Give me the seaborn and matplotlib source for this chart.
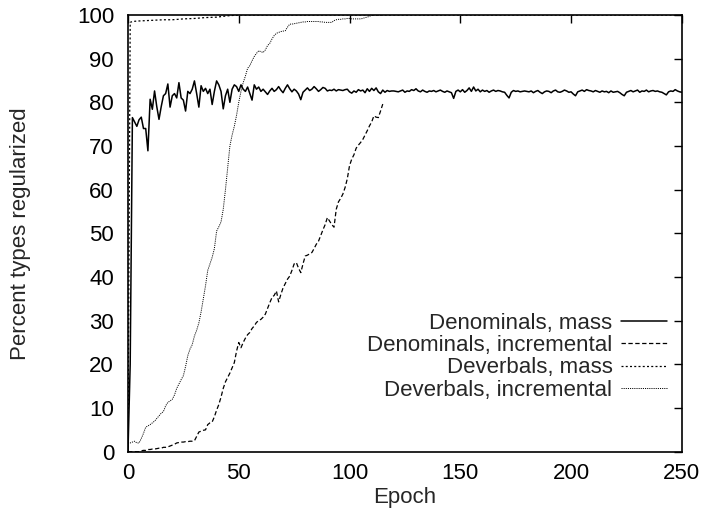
import matplotlib
matplotlib.use('Agg')
import pandas as pd
import seaborn as sns
import matplotlib.pyplot as plt

# epochs of each run
epochs_mass = list(range(0, 251))
epochs_incr = list(range(0, 116))
epochs_dev_mass = [0, 1, 2, 4, 8, 12, 16, 20, 25, 30, 35, 40, 45, 50, 250]

den_mass = [
    0, 20, 76.5, 75.5, 74.5, 76, 76.6, 74, 74, 68.9,
    80.7, 78.4, 82.6, 79, 76.1, 79, 81.5, 82, 84.2, 78.9,
    81.5, 82, 81, 84.5, 81, 80.5, 78, 82.5, 82, 83,
    84.9, 82, 78.9, 83.8, 82.5, 83.2, 82, 83, 79.5, 82.5,
    84.9, 84, 82.5, 78.5, 81.5, 83, 80, 83, 84, 83.6,
    82.5, 84, 83, 82.5, 83.5, 82, 80.5, 84, 83, 83.5,
    82.5, 83.0, 82.4, 81.8, 82.6, 83.2, 82.5, 82.9, 83.6, 82.8,
    82.2, 83.2, 84.0, 83.1, 82.4, 83.0, 82.6, 81.9, 80.6, 82.3,
    82.8, 83.3, 82.7, 83.0, 83.6, 83.1, 82.5, 82.9, 83.4, 83.2,
    82.6, 82.8, 82.7, 83.0, 82.6, 82.9, 82.8, 82.7, 82.9, 83.0,
    82.4, 82.1, 82.6, 82.3, 82.9, 82.6, 82.8, 82.2, 83.1, 82.5,
    83.2, 82.7, 83.3, 82.4, 82.0, 82.8, 82.3, 82.7, 82.5, 82.6,
    82.6, 82.5, 82.4, 82.6, 82.8, 82.3, 82.6, 82.5, 82.9, 82.7,
    83.1, 82.6, 82.4, 82.8, 82.5, 82.3, 82.6, 82.5, 82.7, 82.4,
    82.6, 82.8, 82.5, 82.3, 82.6, 82.4, 82.2, 80.9, 82.5, 82.8,
    82.4, 82.9, 82.3, 82.7, 83.3, 82.5, 83.5, 82.6, 83.0, 82.4,
    82.8, 82.5, 82.7, 82.3, 82.6, 82.8, 82.5, 82.7, 82.6, 82.4,
    82.3, 81.6, 81.0, 82.3, 82.7, 82.5, 82.6, 82.4, 82.5, 82.6,
    82.5, 82.4, 82.6, 82.2, 82.5, 82.7, 82.3, 82.0, 82.4, 82.6,
    82.5, 82.2, 82.6, 82.8, 82.4, 82.3, 82.5, 82.8, 82.6, 82.3,
    82.4, 81.9, 81.5, 82.4, 82.6, 82.8, 82.5, 82.9, 82.7, 82.6,
    82.4, 82.7, 82.5, 82.3, 82.6, 82.4, 82.5, 82.2, 82.6, 82.3,
    82.4, 82.5, 82.2, 81.8, 81.5, 82.3, 82.5, 82.7, 82.4, 82.6,
    82.8, 82.3, 82.6, 82.5, 82.8, 82.4, 82.6, 82.7, 82.5, 82.6,
    82.4, 82.3, 82.0, 81.7, 82.4, 82.6, 82.5, 82.9, 82.6, 82.4,
    82.3,
]

den_incr = [
    0, 0, 0, 0, 0, 0, 0.2, 0.3, 0.3, 0.5,
    0.5, 0.6, 0.6, 0.7, 0.8, 0.8, 1.0, 1.0, 1.1, 1.3,
    1.5, 1.7, 2.0, 2.1, 2.2, 2.2, 2.3, 2.3, 2.4, 2.4,
    2.5, 3.5, 4.5, 4.7, 4.9, 5.0, 6.2, 6.6, 6.8, 8.0,
    9.5, 10.8, 12.5, 14.5, 16.0, 17.0, 18.0, 19.2, 20.4, 23.0,
    25.0, 23.8, 25.0, 26.0, 26.8, 27.3, 28.2, 28.8, 29.6, 30.0,
    30.3, 30.8, 31.5, 32.8, 34.1, 35.3, 35.8, 36.8, 34.3, 36.0,
    37.5, 38.5, 39.5, 40.2, 41.5, 43.0, 43.3, 42.0, 41.0, 43.0,
    44.8, 45.0, 45.3, 45.6, 46.5, 47.5, 48.2, 49.5, 50.8, 52.0,
    53.6, 52.8, 52.0, 51.4, 55.5, 57.2, 58.0, 59.0, 60.5, 62.5,
    65.5, 67.0, 68.0, 69.5, 70.2, 70.8, 71.5, 72.5, 73.5, 74.6,
    75.5, 76.9, 76.6, 76.5, 78.0, 79.6,
]

dev_mass = [0, 98.3, 98.5, 98.6, 98.7, 98.8, 98.9, 98.9, 99.1, 99.2,
            99.4, 99.5, 99.8, 100, 100]

dev_incr = [
    1.8, 2.0, 2.2, 2.4, 2.0, 2.0, 3.0, 4.2, 5.6, 5.9,
    6.2, 6.6, 7.0, 7.6, 8.2, 8.8, 9.2, 10.5, 11.3, 11.6,
    12.0, 13.0, 14.5, 15.5, 16.5, 17.4, 19.5, 22.0, 23.5, 24.5,
    26.5, 27.8, 29.5, 32.0, 35.0, 38.0, 41.5, 43.0, 44.5, 46.5,
    50.5, 51.5, 52.6, 55.5, 60.0, 65.0, 70.0, 72.5, 74.5, 77.0,
    80.0, 82.5, 84.5, 86.0, 87.8, 88.4, 89.5, 90.5, 91.2, 91.8,
    91.6, 91.4, 92.0, 93.0, 93.5, 94.5, 95.3, 95.8, 96.0, 96.2,
    96.3, 96.4, 97.2, 97.9, 97.9, 98.0, 98.1, 98.2, 98.3, 98.4,
    98.4, 98.5, 98.5, 98.5, 98.5, 98.5, 98.5, 98.4, 98.4, 98.3,
    98.3, 98.3, 98.3, 98.7, 98.9, 99.0, 99.0, 99.1, 99.1, 99.2,
    99.2, 99.1, 99.1, 99.1, 99.1, 99.1, 99.2, 99.4, 99.5, 99.7,
    99.9, 100, 100, 100, 100, 100,
]

series = [
    ('Denominals, mass', epochs_mass, den_mass, '-', 1.1),
    ('Denominals, incremental', epochs_incr, den_incr, (0, (3.5, 2)), 0.9),
    ('Deverbals, mass', epochs_dev_mass, dev_mass, (0, (1.6, 1.8)), 0.9),
    ('Deverbals, incremental', epochs_incr, dev_incr, (0, (1.1, 1.1)), 0.7),
]

sns.set_style('white')
plt.rcParams['font.family'] = ['Liberation Sans', 'DejaVu Sans']

fig = plt.figure(figsize=(7.02, 5.09), dpi=100)
ax = fig.add_axes([0.1823, 0.1126, 0.789, 0.858])

for name, xs, ys, ls, lw in series:
    df = pd.DataFrame({'Epoch': xs, 'pct': ys})
    sns.lineplot(data=df, x='Epoch', y='pct', ax=ax, color='black',
                 linestyle=ls, linewidth=lw, label=name, errorbar=None)

ax.set_xlim(0, 250)
ax.set_ylim(0, 100)
ax.set_xticks(range(0, 251, 50))
ax.set_yticks(range(0, 101, 10))
ax.tick_params(direction='in', top=True, right=True, length=6, width=1,
               labelsize=16, colors='black')
ax.tick_params(axis='x', pad=8)
ax.tick_params(axis='y', pad=10)
for s in ax.spines.values():
    s.set_linewidth(1.2)
    s.set_color('black')

ax.set_xlabel('Epoch', fontsize=16)
ax.set_ylabel('Percent types regularized', fontsize=16)
ax.xaxis.set_label_coords(0.5, -0.082)
ax.yaxis.set_label_coords(-0.175, 0.5)

ax.legend(loc='upper right', bbox_to_anchor=(0.973, 0.318), frameon=False,
          markerfirst=False, handlelength=2.05, handletextpad=0.4,
          labelspacing=0.06, borderpad=0, borderaxespad=0, fontsize=16)

plt.savefig('out.png', dpi=100)
